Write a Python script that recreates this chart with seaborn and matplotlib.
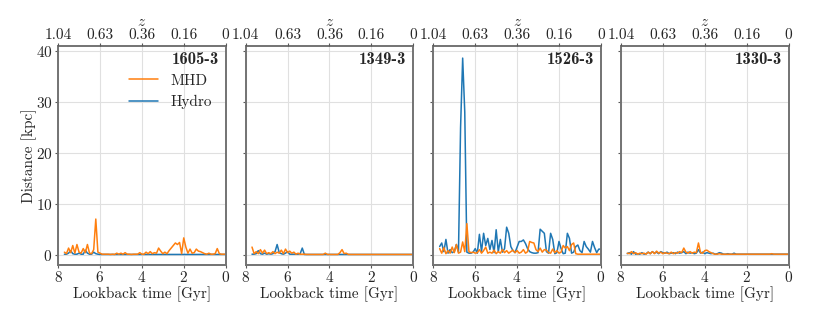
import numpy as np
import pandas as pd
import seaborn as sns
import matplotlib
matplotlib.use('Agg')
import matplotlib.pyplot as plt
from matplotlib.lines import Line2D

# lookback time grid [Gyr]
t = [7.7, 7.6, 7.5, 7.4, 7.3, 7.2, 7.1, 7.0, 6.9, 6.8,
     6.7, 6.6, 6.5, 6.4, 6.3, 6.2, 6.1, 6.0, 5.9, 5.8,
     5.7, 5.6, 5.5, 5.4, 5.3, 5.2, 5.1, 5.0, 4.9, 4.8,
     4.7, 4.6, 4.5, 4.4, 4.3, 4.2, 4.1, 4.0, 3.9, 3.8,
     3.7, 3.6, 3.5, 3.4, 3.3, 3.2, 3.1, 3.0, 2.9, 2.8,
     2.7, 2.6, 2.5, 2.4, 2.3, 2.2, 2.1, 2.0, 1.9, 1.8,
     1.7, 1.6, 1.5, 1.4, 1.3, 1.2, 1.1, 1.0, 0.9, 0.8,
     0.7, 0.6, 0.5, 0.4, 0.3, 0.2, 0.1, 0.0]

halos = ['1605-3', '1349-3', '1526-3', '1330-3']

# distance [kpc]
mhd_1605 = [0.5, 0.2, 1.3, 0.4, 1.8, 0.3, 2.0, 0.5, 0.3, 1.2,
            0.4, 2.0, 0.3, 0.2, 1.0, 7.0, 0.5, 0.3, 0.1, 0.1,
            0.1, 0.1, 0.05, 0.1, 0.05, 0.3, 0.1, 0.3, 0.1, 0.4,
            0.1, 0.1, 0.05, 0.1, 0.1, 0.1, 0.4, 0.1, 0.1, 0.5,
            0.2, 0.6, 0.2, 0.4, 0.3, 1.3, 0.7, 0.2, 0.5, 0.2,
            0.8, 1.3, 1.8, 2.3, 2.0, 2.4, 0.2, 3.3, 1.5, 0.3,
            1.1, 0.3, 0.4, 1.1, 0.7, 0.6, 0.4, 0.2, 0.1, 0.3,
            0.1, 0.1, 0.2, 1.2, 0.2, 0.1, 0.1, 0.1]
hydro_1605 = [0.1, 0.1, 0.3, 0.8, 0.2, 0.1, 0.1, 0.3, 0.1, 0.1,
              0.9, 0.3, 0.1, 0.1, 0.5, 0.2, 0.1, 0.05, 0.05, 0.05,
              0.05, 0.05, 0.05, 0.05, 0.05, 0.05, 0.05, 0.05, 0.05, 0.05,
              0.05, 0.05, 0.05, 0.05, 0.05, 0.05, 0.05, 0.05, 0.05, 0.05,
              0.05, 0.05, 0.05, 0.05, 0.05, 0.05, 0.05, 0.05, 0.05, 0.05,
              0.05, 0.05, 0.05, 0.05, 0.05, 0.05, 0.05, 0.05, 0.05, 0.05,
              0.05, 0.05, 0.05, 0.05, 0.05, 0.05, 0.05, 0.05, 0.05, 0.05,
              0.05, 0.05, 0.05, 0.05, 0.05, 0.05, 0.05, 0.05]

mhd_1349 = [1.5, 0.2, 0.6, 0.2, 1.0, 0.3, 0.9, 0.2, 0.4, 0.2,
            0.6, 0.2, 0.5, 0.3, 0.9, 0.2, 1.1, 0.4, 0.7, 0.3,
            0.5, 0.1, 0.3, 0.1, 0.1, 0.1, 0.05, 0.05, 0.05, 0.05,
            0.05, 0.05, 0.05, 0.05, 0.05, 0.3, 0.05, 0.05, 0.05, 0.05,
            0.05, 0.05, 0.4, 1.0, 0.2, 0.3, 0.05, 0.05, 0.05, 0.05,
            0.05, 0.05, 0.05, 0.05, 0.05, 0.05, 0.05, 0.05, 0.05, 0.05,
            0.05, 0.05, 0.05, 0.05, 0.05, 0.05, 0.05, 0.05, 0.05, 0.05,
            0.05, 0.05, 0.05, 0.05, 0.05, 0.05, 0.05, 0.05]
hydro_1349 = [0.1, 0.1, 0.2, 0.8, 0.2, 0.1, 0.3, 0.1, 0.2, 0.1,
              0.2, 0.6, 2.0, 0.4, 0.2, 0.1, 0.3, 0.6, 0.1, 0.1,
              0.1, 0.1, 0.1, 0.2, 1.3, 0.05, 0.05, 0.05, 0.05, 0.05,
              0.05, 0.05, 0.05, 0.05, 0.05, 0.05, 0.05, 0.05, 0.05, 0.05,
              0.05, 0.05, 0.05, 0.05, 0.05, 0.05, 0.05, 0.05, 0.05, 0.05,
              0.05, 0.05, 0.05, 0.05, 0.05, 0.05, 0.05, 0.05, 0.05, 0.05,
              0.05, 0.05, 0.05, 0.05, 0.05, 0.05, 0.05, 0.05, 0.05, 0.05,
              0.05, 0.05, 0.05, 0.05, 0.05, 0.05, 0.05, 0.05]

mhd_1526 = [1.2, 0.3, 1.4, 0.2, 0.8, 0.3, 1.5, 0.4, 2.0, 0.3,
            0.5, 2.5, 0.6, 6.1, 0.6, 0.4, 0.5, 0.3, 0.4, 1.0,
            0.3, 0.8, 1.5, 0.3, 0.5, 0.3, 0.9, 0.2, 0.6, 0.3,
            1.0, 0.4, 0.8, 0.3, 0.6, 0.9, 0.4, 0.8, 0.3, 0.5,
            1.0, 0.3, 0.6, 2.6, 2.4, 2.3, 1.0, 0.6, 1.3, 0.5,
            1.0, 0.9, 0.4, 0.3, 1.1, 0.4, 0.8, 0.3, 0.5, 1.8,
            1.3, 1.6, 0.8, 2.0, 2.3, 0.2, 0.1, 0.1, 0.1, 0.1,
            0.1, 0.1, 0.1, 0.1, 0.1, 0.1, 0.1, 0.1]
hydro_1526 = [1.6, 2.3, 0.6, 3.0, 0.3, 1.0, 0.4, 0.6, 2.0, 0.5,
              25.0, 38.6, 28.0, 0.5, 0.3, 0.3, 0.5, 1.2, 0.3, 4.0,
              0.6, 4.2, 1.8, 3.2, 1.0, 2.8, 0.4, 4.9, 0.6, 3.0,
              0.5, 1.2, 5.4, 4.2, 1.6, 0.8, 0.4, 1.5, 2.6, 2.6,
              2.9, 2.2, 1.2, 0.6, 0.4, 0.3, 0.3, 0.4, 5.0, 4.6,
              4.2, 0.6, 0.3, 4.2, 3.0, 0.2, 0.4, 2.6, 1.2, 0.2,
              0.3, 4.2, 3.2, 0.3, 0.5, 1.6, 1.9, 0.8, 0.4, 2.6,
              1.6, 1.1, 0.5, 2.6, 1.4, 0.4, 1.1, 1.1]

mhd_1330 = [0.3, 0.2, 0.6, 0.2, 0.4, 0.1, 0.3, 0.2, 0.3, 0.1,
            0.5, 0.2, 0.6, 0.2, 0.7, 0.3, 0.5, 0.2, 0.4, 0.3,
            0.2, 0.5, 0.2, 0.4, 0.3, 0.6, 0.4, 1.3, 0.5, 0.3,
            0.6, 0.3, 0.5, 0.4, 2.3, 0.4, 0.3, 0.8, 0.9, 0.6,
            0.4, 0.2, 0.1, 0.1, 0.2, 0.1, 0.1, 0.1, 0.1, 0.1,
            0.1, 0.1, 0.1, 0.1, 0.1, 0.1, 0.1, 0.1, 0.1, 0.1,
            0.1, 0.1, 0.1, 0.1, 0.1, 0.1, 0.1, 0.1, 0.1, 0.2,
            0.1, 0.1, 0.1, 0.1, 0.1, 0.1, 0.1, 0.1]
hydro_1330 = [0.2, 0.4, 0.1, 0.6, 0.1, 0.2, 0.1, 0.4, 0.1, 0.2,
              0.5, 0.2, 0.6, 0.3, 0.5, 0.2, 0.6, 0.4, 0.3, 0.5,
              0.2, 0.3, 0.4, 0.2, 0.5, 0.3, 0.4, 0.6, 0.2, 0.5,
              0.3, 0.4, 0.2, 0.3, 1.0, 0.3, 0.5, 0.2, 0.4, 0.3,
              0.2, 0.3, 0.1, 0.2, 0.4, 0.3, 0.1, 0.1, 0.2, 0.1,
              0.1, 0.3, 0.1, 0.1, 0.1, 0.1, 0.1, 0.1, 0.1, 0.1,
              0.1, 0.1, 0.1, 0.1, 0.1, 0.1, 0.1, 0.1, 0.1, 0.1,
              0.1, 0.1, 0.1, 0.1, 0.1, 0.1, 0.1, 0.1]

mhd = [mhd_1605, mhd_1349, mhd_1526, mhd_1330]
hydro = [hydro_1605, hydro_1349, hydro_1526, hydro_1330]

z_ticks = [8, 6, 4, 2, 0]
z_labels = ['1.04', '0.63', '0.36', '0.16', '0']

sns.set_style('whitegrid')
plt.rcParams['font.family'] = 'serif'
plt.rcParams['font.serif'] = ['cmr10', 'DejaVu Serif']
plt.rcParams['mathtext.fontset'] = 'cm'
plt.rcParams['axes.formatter.use_mathtext'] = True
plt.rcParams['axes.unicode_minus'] = False

c_mhd = '#ff7f0e'
c_hydro = '#1f77b4'

fig, axes = plt.subplots(1, 4, figsize=(8.3, 3.12), dpi=100, sharey=True)
fig.subplots_adjust(left=0.070, right=0.950, bottom=0.151, top=0.853, wspace=0.12)

for i, ax in enumerate(axes):
    df = pd.DataFrame({'t': t, 'MHD': mhd[i], 'Hydro': hydro[i]})
    sns.lineplot(data=df, x='t', y='Hydro', ax=ax, color=c_hydro, lw=1.1)
    sns.lineplot(data=df, x='t', y='MHD', ax=ax, color=c_mhd, lw=1.1)
    ax.set_xlim(8, 0)
    ax.set_ylim(-2, 41)
    ax.set_xticks([8, 6, 4, 2, 0])
    ax.set_yticks([0, 10, 20, 30, 40])
    ax.grid(True, color='0.88', lw=0.8)
    ax.set_xlabel('Lookback time [Gyr]', fontsize=11, labelpad=1)
    ax.set_ylabel('Distance [kpc]' if i == 0 else '', fontsize=11)
    ax.tick_params(axis='both', labelsize=11, length=2.5, width=0.8, direction='out',
                   bottom=True, left=True, pad=1.5, color='0.35')
    for s in ax.spines.values():
        s.set_color('0.45')
        s.set_linewidth(1.4)
    ax.text(0.96, 0.97, halos[i], transform=ax.transAxes, ha='right', va='top',
            fontsize=12, fontfamily='cmb10')

    top = ax.twiny()
    top.set_xlim(ax.get_xlim())
    top.set_xticks(z_ticks)
    top.set_xticklabels(z_labels)
    top.tick_params(axis='x', labelsize=11, length=2.5, width=0.8, pad=0, color='0.35')
    top.set_xlabel('$z$', fontsize=11, labelpad=2)
    top.grid(False)
    for s in top.spines.values():
        s.set_visible(False)

axes[0].yaxis.set_label_coords(-0.125, 0.5)

handles = [Line2D([], [], color=c_mhd, lw=1.1), Line2D([], [], color=c_hydro, lw=1.1)]
axes[0].legend(handles, ['MHD', 'Hydro'], loc='upper right', bbox_to_anchor=(1.0, 0.935),
               frameon=False, fontsize=11, handlelength=1.9, handletextpad=0.8,
               labelspacing=0.5)

fig.savefig('out.png', dpi=100)
